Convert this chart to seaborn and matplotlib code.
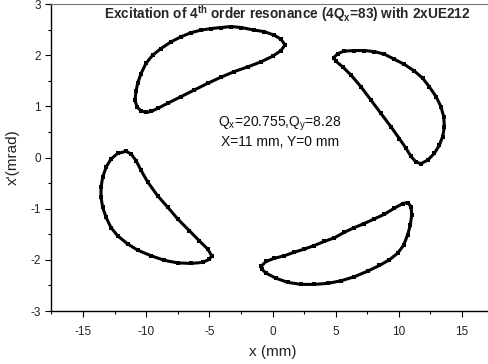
import matplotlib
matplotlib.use("Agg")
import matplotlib.pyplot as plt
from matplotlib.ticker import MultipleLocator
import seaborn as sns

# Phase-space islands (x in mm, x' in mrad), one closed loop per island
island1_x = [0.99, 0.67, 0.15, -0.65, -1.44, -2.49, -3.29, -4.08, -4.87, -5.66, -6.45, -7.24,
             -8.04, -8.83, -9.49, -10.02, -10.41, -10.68, -10.81, -10.89, -10.73, -10.41,
             -10.02, -9.62, -9.09, -8.30, -7.24, -6.19, -5.13, -4.08, -3.02, -1.97, -0.91,
             0.01, 0.67, 0.99]
island1_y = [2.20, 2.31, 2.39, 2.46, 2.49, 2.54, 2.56, 2.54, 2.52, 2.49, 2.44, 2.36,
             2.26, 2.13, 2.00, 1.84, 1.64, 1.45, 1.29, 1.12, 0.99, 0.91,
             0.88, 0.90, 0.96, 1.06, 1.19, 1.32, 1.45, 1.57, 1.68, 1.77, 1.87,
             1.98, 2.09, 2.20]

island2_x = [4.84, 5.16, 5.69, 6.48, 7.27, 8.06, 8.85, 9.65, 10.44, 11.23, 11.89, 12.42,
             12.95, 13.34, 13.55, 13.61, 13.47, 13.21, 12.81, 12.29, 11.76, 11.36, 10.97,
             10.57, 10.04, 9.38, 8.59, 7.80, 7.01, 6.22, 5.56, 5.03, 4.84]
island2_y = [1.95, 2.03, 2.08, 2.09, 2.09, 2.07, 2.02, 1.92, 1.82, 1.69, 1.55, 1.38,
             1.19, 0.99, 0.80, 0.60, 0.41, 0.24, 0.08, -0.05, -0.12, -0.09, 0.02,
             0.18, 0.37, 0.60, 0.86, 1.12, 1.38, 1.61, 1.77, 1.88, 1.95]

island3_x = [-11.60, -12.26, -12.79, -13.18, -13.45, -13.58, -13.58, -13.45, -13.18, -12.79,
             -12.26, -11.47, -10.68, -9.62, -8.56, -7.51, -6.45, -5.53, -5.00, -4.82,
             -5.13, -5.79, -6.59, -7.51, -8.30, -9.09, -9.88, -10.41, -10.81, -11.20, -11.60]
island3_y = [0.12, 0.08, -0.03, -0.19, -0.39, -0.58, -0.78, -0.97, -1.17, -1.37,
             -1.53, -1.69, -1.81, -1.92, -2.01, -2.06, -2.07, -2.05, -1.99, -1.92,
             -1.79, -1.63, -1.43, -1.20, -0.97, -0.75, -0.48, -0.25, -0.06, 0.07, 0.12]

island4_x = [-0.91, -0.51, 0.15, 0.94, 1.73, 2.52, 3.31, 4.10, 4.90, 5.69, 6.48, 7.27,
             8.06, 8.85, 9.65, 10.31, 10.70, 10.97, 11.02, 10.91, 10.70, 10.39, 9.91,
             9.25, 8.46, 7.54, 6.48, 5.42, 4.37, 3.31, 2.26, 1.20, 0.28, -0.51, -0.86, -0.91]
island4_y = [-2.13, -2.03, -1.97, -1.92, -1.85, -1.79, -1.72, -1.64, -1.57, -1.46, -1.37, -1.29,
             -1.20, -1.11, -0.99, -0.90, -0.88, -0.96, -1.12, -1.32, -1.51, -1.71, -1.87,
             -2.00, -2.11, -2.22, -2.33, -2.41, -2.46, -2.48, -2.48, -2.44, -2.36, -2.26,
             -2.18, -2.13]

islands = [(island1_x, island1_y), (island2_x, island2_y),
           (island3_x, island3_y), (island4_x, island4_y)]

x_ticks = [-15, -10, -5, 0, 5, 10, 15]
y_ticks = [-3, -2, -1, 0, 1, 2, 3]

title_text = r"Excitation of 4$^{\mathbf{th}}$ order resonance (4Q$_{\mathbf{x}}$=83) with 2xUE212"
tune_text = r"Q$_{\mathrm{x}}$=20.755,Q$_{\mathrm{y}}$=8.28"
start_text = "X=11 mm, Y=0 mm"

sns.set_style("ticks")
plt.rcParams["font.family"] = ["Liberation Sans", "DejaVu Sans"]
plt.rcParams["mathtext.fontset"] = "custom"
plt.rcParams["mathtext.rm"] = "Liberation Sans"
plt.rcParams["mathtext.bf"] = "Liberation Sans:bold"
plt.rcParams["axes.unicode_minus"] = False

fig = plt.figure(figsize=(4.89, 3.64), dpi=100)
ax = fig.add_axes([0.1053, 0.1456, 0.904, 0.8434])

for xs, ys in islands:
    sns.lineplot(x=xs, y=ys, sort=False, estimator=None, ax=ax, color="black",
                 linewidth=2.2, marker="s", markersize=3.0, markeredgewidth=0)

ax.set_xlim(-17.5, 17.5)
ax.set_ylim(-3, 3)
ax.set_xticks(x_ticks)
ax.set_yticks(y_ticks)
ax.xaxis.set_minor_locator(MultipleLocator(2.5))
ax.yaxis.set_minor_locator(MultipleLocator(0.5))
ax.tick_params(which="major", direction="out", length=4, width=0.8, labelsize=8.5,
               labelcolor="#222222", color="black")
ax.tick_params(which="minor", direction="out", length=2.5, width=0.8, color="black")
ax.tick_params(axis="x", pad=7)

for side in ("left", "bottom"):
    ax.spines[side].set_color("black")
    ax.spines[side].set_linewidth(1.0)
ax.spines["top"].set_color("#777777")
ax.spines["top"].set_linewidth(0.8)
ax.spines["right"].set_visible(False)

ax.set_xlabel("x (mm)", fontsize=11, color="#222222", labelpad=5)
ax.set_ylabel("x'(mrad)", fontsize=11, color="#222222", labelpad=8)

ax.text(1.15, 2.81, title_text, ha="center", va="center", fontsize=9.8, fontweight="bold")
ax.text(0.6, 0.66, tune_text, ha="center", va="center", fontsize=10, color="#111111")
ax.text(0.6, 0.31, start_text, ha="center", va="center", fontsize=10, color="#111111")

fig.savefig("out.png", dpi=100)
